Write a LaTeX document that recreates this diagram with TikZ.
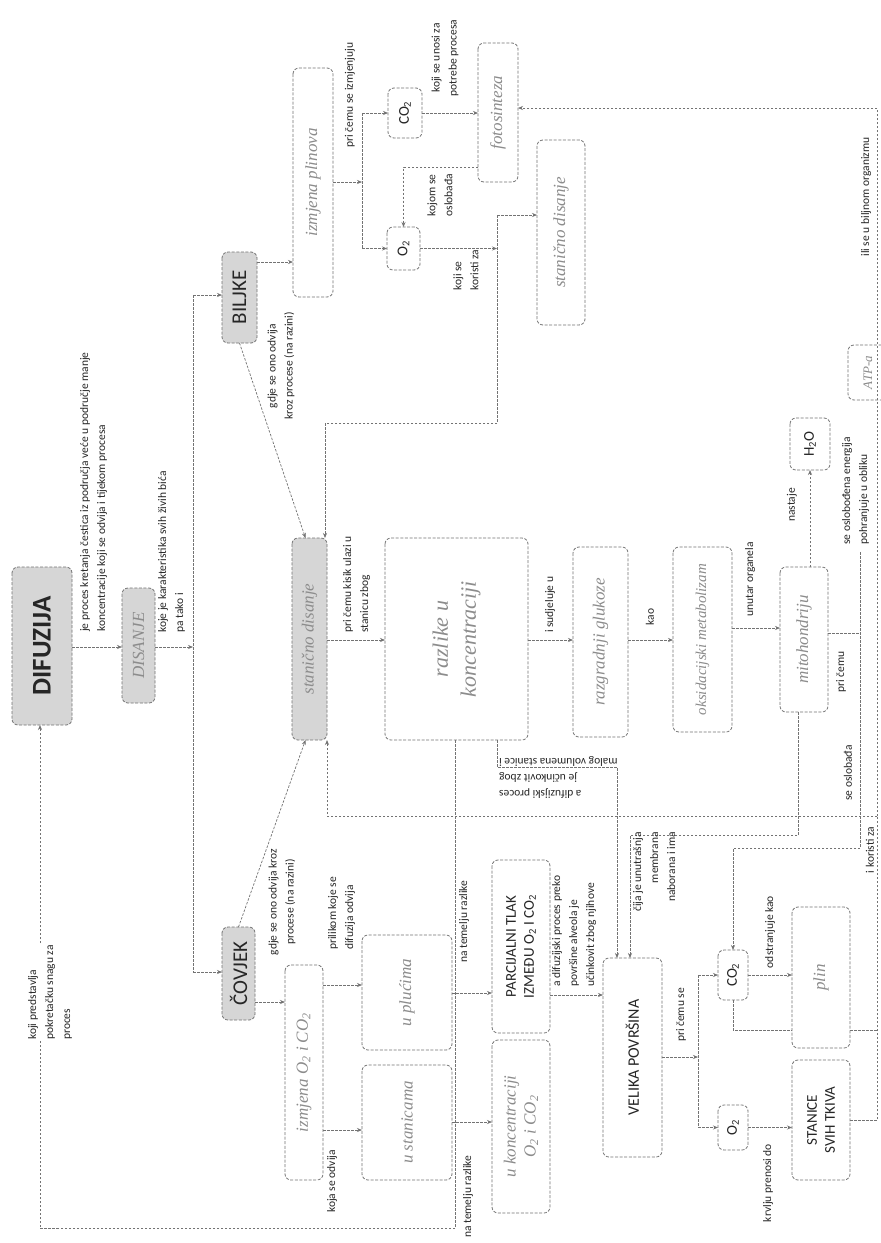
\documentclass[tikz,border=0pt]{standalone}
\usepackage{fontspec}
\setmainfont{Carlito}
\newfontfamily\hand{Liberation Serif}
\usetikzlibrary{arrows.meta,calc}
\begin{document}
\begin{tikzpicture}[x=1pt,y=-1pt,
  box/.style={rotate=90, draw=black!55, dash pattern=on 3pt off 1.6pt, line width=0.8pt,
    rounded corners=6pt, fill=white, inner sep=1pt, outer sep=0pt, align=center,
    text=black!85, font=\fontsize{15}{18}\selectfont},
  shd/.style={box, fill=black!16},
  hw/.style={box, text=black!45, font=\hand\itshape\fontsize{17}{20}\selectfont},
  lab/.style={rotate=90, inner sep=0pt, align=left, text=black!85, font=\fontsize{11.5}{17}\selectfont},
  con/.style={draw=black!55, line width=0.7pt, dash pattern=on 2.5pt off 1.5pt},
  arr/.style={con, -{Stealth[length=5pt,width=4pt]}}]
\fill[white] (0,0) rectangle (881,1243);
\useasboundingbox (0,0) rectangle (881,1243);

% ---------- boxes ----------
\node[shd, minimum width=158, minimum height=60, font=\bfseries\fontsize{27}{30}\selectfont] (dif) at (42,646) {DIFUZIJA};
\node[hw, fill=black!16, minimum width=115, minimum height=33] (dis) at (138.5,645.5) {DISANJE};
\node[shd, minimum width=91, minimum height=35, font=\fontsize{21}{24}\selectfont] (bil) at (239.5,297.5) {BILJKE};
\node[shd, minimum width=93, minimum height=33, font=\fontsize{21}{24}\selectfont] (cov) at (238.5,973.5) {ČOVJEK};

\node[hw, minimum width=229, minimum height=40] (izmp) at (313,182.5) {izmjena plinova};
\node[box, minimum width=50, minimum height=34] (co2p) at (405,113) {CO\textsubscript{2}};
\node[box, minimum width=43, minimum height=33] (o2p) at (403.5,248.5) {O\textsubscript{2}};
\node[hw, minimum width=139, minimum height=40] (foto) at (498,112.5) {fotosinteza};
\node[hw, minimum width=185, minimum height=48] (sdp) at (561,232.5) {stanično disanje};

\node[hw, fill=black!16, minimum width=202, minimum height=35] (sdm) at (309.5,639) {stanično disanje};
\node[hw, minimum width=202, minimum height=143, font=\hand\itshape\fontsize{22}{28}\selectfont] (razl) at (456.5,639) {razlike u\\koncentraciji};
\node[hw, minimum width=190, minimum height=55] (razg) at (600.5,642) {razgradnji glukoze};
\node[hw, minimum width=185, minimum height=59, font=\hand\itshape\fontsize{15}{18}\selectfont] (oks) at (702.5,639.5) {oksidacijski metabolizam};
\node[hw, minimum width=145, minimum height=48] (mito) at (804,639.5) {mitohondriju};
\node[box, minimum width=52, minimum height=40] (h2o) at (810,444) {H\textsubscript{2}O};
\node[hw, minimum width=55, minimum height=40, font=\hand\itshape\fontsize{13}{15}\selectfont] (atp) at (868,372.5) {ATP-a};

\node[hw, minimum width=215, minimum height=38] (izmh) at (304,1072.5) {izmjena O\textsubscript{2} i CO\textsubscript{2}};
\node[hw, minimum width=115, minimum height=90] (pluca) at (407,992.5) {u plućima};
\node[hw, minimum width=115, minimum height=90] (stan) at (407,1122.5) {u stanicama};
\node[box, minimum width=173, minimum height=58] (parc) at (521,946.5) {PARCIJALNI TLAK\\IZMEĐU O\textsubscript{2} I CO\textsubscript{2}};
\node[hw, minimum width=173, minimum height=58] (konc) at (521,1126.5) {u koncentraciji\\O\textsubscript{2} i CO\textsubscript{2}};
\node[box, minimum width=199, minimum height=59, font=\fontsize{16}{19}\selectfont] (vel) at (632.5,1057.5) {VELIKA POVRŠINA};
\node[box, minimum width=50, minimum height=30] (co2h) at (733,975) {CO\textsubscript{2}};
\node[box, minimum width=45, minimum height=30] (o2h) at (733,1127.5) {O\textsubscript{2}};
\node[hw, minimum width=141, minimum height=58] (plin) at (821,977.5) {plin};
\node[box, minimum width=120, minimum height=58] (stsv) at (821,1120) {STANICE\\SVIH TKIVA};

% ---------- connectors ----------
\coordinate (t0) at (193,295); \coordinate (t1) at (193,647); \coordinate (t2) at (193,972);
\draw[arr] (dif.south |- t1) -- (dis.north |- t1);
\draw[arr] (dis.south |- t1) -- (t1);
\draw[con] (t0) -- (t2);
\draw[arr] (t0) -- (bil.north |- t0);
\draw[arr] (t2) -- (cov.north |- t2);

\draw[arr] (bil.south |- 0,262) -- (izmp.north |- 0,262);
\draw[arr] (bil.west) -- ($(sdm.east)+(-4,0)$);
\draw[arr] (cov.east) -- ($(sdm.west)+(-4,0)$);
\draw[arr] (cov.south |- 0,1002) -- (izmh.north |- 0,1002);

\coordinate (b0) at (362,182); \coordinate (b1) at (362,113); \coordinate (b2) at (362,248.5);
\draw[arr] (izmp.south |- b0) -- (b0);
\draw[con] (b1) -- (b2);
\draw[arr] (b1) -- (co2p.north |- b1);
\draw[arr] (b2) -- (o2p.north |- b2);
\draw[arr] (co2p.south) -- (foto.north |- co2p.south);
\coordinate (f1) at (403.5,167);
\draw[arr] (foto.north |- f1) -- (f1) -- (o2p.east);
\coordinate (k0) at (497,248.5); \coordinate (k1) at (497,215); \coordinate (k2) at (497,423); \coordinate (k3) at (325,423);
\draw[arr] (o2p.south) -- (k0);
\draw[con] (k1) -- (k2);
\draw[arr] (k1) -- (sdp.north |- k1);
\draw[arr] (k2) -- (k3) -- (sdm.east -| k3);

\coordinate (r1) at (877,108); \coordinate (r2) at (877,1120); \coordinate (r3) at (877,816); \coordinate (r4) at (327,816);
\draw[con] (stsv.south |- r2) -- (r2) -- (r3);
\draw[arr] (r3) -- (r1) -- (foto.south |- r1);
\draw[arr] (r3) -- (r4) -- (sdm.west -| r4);

\coordinate (m1) at (0,640); \coordinate (m2) at (0,628);
\draw[arr] (sdm.south |- m1) -- (razl.north |- m1);
\draw[arr] (razl.south |- m1) -- (razg.north |- m1);
\draw[arr] (razg.south |- m1) -- (oks.north |- m1);
\draw[arr] (oks.south |- m2) -- (mito.north |- m2);
\draw[arr] (mito.east -| h2o.west) -- (h2o.west);
\coordinate (p0) at (860,633); \coordinate (p1) at (860,552); \coordinate (p2) at (860,848); \coordinate (p3) at (733,848);
\draw[con] (mito.south |- p0) -- (p0);
\draw[con] (p1) -- (p2);
\draw[arr] (p2) -- (p3) -- (co2h.east);
\coordinate (q1) at (798,835); \coordinate (q2) at (630,835);
\draw[arr] (mito.west -| q1) -- (q1) -- (q2) -- (vel.east -| q2);
\coordinate (u1) at (497,767); \coordinate (u2) at (617,767);
\draw[arr] (razl.west -| u1) -- (u1) -- (u2) -- (vel.east -| u2);
\coordinate (d1) at (455,1228); \coordinate (d2) at (40,1228);
\draw[arr] (razl.west -| d1) -- (d1) -- (d2) -- (dif.west -| d2);

\draw[arr] (izmh.south |- 0,985) -- (pluca.north |- 0,985);
\draw[arr] (izmh.south |- 0,1130) -- (stan.north |- 0,1130);
\draw[arr] (pluca.south |- 0,993) -- (parc.north |- 0,993);
\draw[arr] (stan.south |- 0,1122) -- (konc.north |- 0,1122);
\draw[arr] (parc.south |- 0,995) -- (vel.north |- 0,995);
\coordinate (v0) at (698,1057); \coordinate (v1) at (698,975); \coordinate (v2) at (698,1127.5);
\draw[arr] (vel.south |- v0) -- (v0);
\draw[con] (v1) -- (v2);
\draw[arr] (v1) -- (co2h.north |- v1);
\draw[arr] (v2) -- (o2h.north |- v2);
\draw[arr] (co2h.south) -- (plin.north |- co2h.south);
\draw[arr] (o2h.south) -- (stsv.north |- o2h.south);
\coordinate (w1) at (733,1030); \coordinate (w2) at (877,1030);
\draw[con] (co2h.west) -- (w1) -- (plin.north |- w1);
\draw[con] (plin.south |- w1) -- (w2);

% ---------- labels ----------
\node[lab, anchor=north west] (l1) at (80,632) {je proces kretanja čestica iz područja veće u područje manje\\koncentracije koji se odvija i tijekom procesa};
\node[lab, anchor=north west] (l2) at (158,633) {koje je karakteristika svih živih bića\\pa tako i};
\node[lab, align=center] (l3) at (281,366) {gdje se ono odvija\\kroz procese (na razini)};
\node[lab, align=center] (l4) at (282,902) {gdje se ono odvija kroz\\procese (na razini)};
\node[lab] (l5) at (350,95) {pri čemu se izmjenjuju};
\node[lab] (l6) at (440,195) {kojom se\\oslobađa};
\node[lab, align=center] (l7) at (445,58) {koji se unosi za\\potrebe procesa};
\node[lab] (l8) at (466,270) {koji se\\koristi za};
\node[lab, anchor=north west] (l9) at (343,633) {pri čemu kisik ulazi u\\stanicu zbog};
\node[lab, anchor=north west] (l10) at (545,633) {i sudjeluje u};
\node[lab] (l11) at (650,617) {kao};
\node[lab, anchor=north west] (l12) at (745,617) {unutar organela};
\node[lab] (l13) at (792,505) {nastaje};
\node[lab, anchor=north west] (l14) at (842,545) {se oslobođena energija\\pohranjuje u obliku};
\node[lab] (l15) at (841,672) {pri čemu};
\node[lab] (l16) at (848,773) {se oslobađa};
\node[lab] (l17) at (866,197) {ili se u biljnom organizmu};
\node[lab] (l18) at (870,850) {i koristi za};
\node[lab, anchor=north west, fill=white] (l19) at (28,1040) {koji predstavlja\\pokretačku snagu za\\proces};
\node[lab, anchor=north west] (l20) at (328,950) {prilikom koje se\\difuzija odvija};
\node[lab, anchor=north west] (l21) at (327,1213) {koja se odvija};
\node[lab, anchor=north west] (l22) at (459,963) {na temelju razlike};
\node[lab, anchor=north west] (l23) at (463,1238) {na temelju razlike};
\node[lab, anchor=north west] (l25) at (552,987) {a difuzijski proces preko\\površine alveola je\\učinkovit zbog njihove};
\node[lab, align=right, anchor=north east] (l26) at (633,832) {čija je unutrašnja\\membrana\\naborana i ima};
\node[lab] (l27) at (681,1015) {pri čemu se};
\node[lab] (l28) at (770,932) {odstranjuje kao};
\node[lab] (l29) at (768,1183) {krvlju prenosi do};
\node[lab, rotate=90, align=right, anchor=east, font=\fontsize{11.5}{16}\selectfont] (l30) at (499,777) {a difuzijski proces\\je učinkovit zbog\\malog volumena stanice i};
\end{tikzpicture}
\end{document}
